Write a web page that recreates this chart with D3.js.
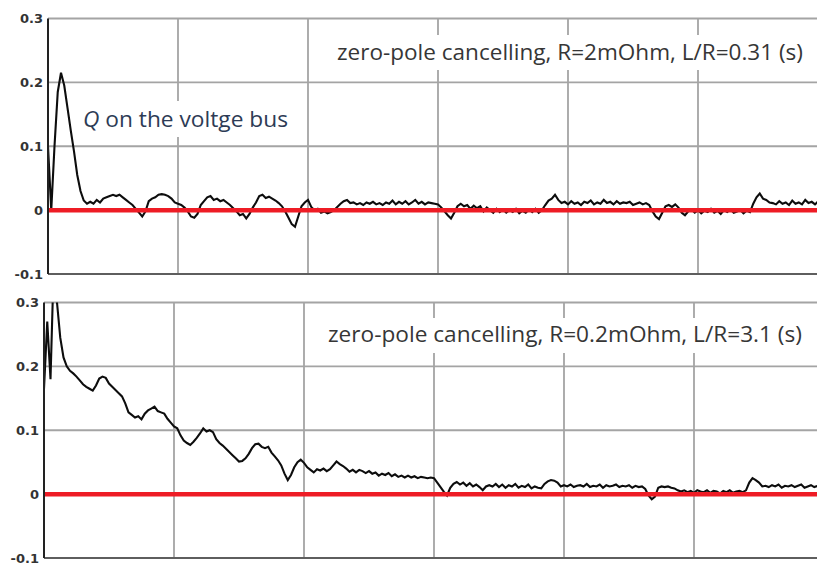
<!DOCTYPE html>
<html>
<head>
<meta charset="utf-8">
<script src="https://cdn.jsdelivr.net/npm/d3@7"></script>
<style>
  html, body { margin: 0; padding: 0; background: #fff; overflow: hidden; }
  svg { display: block; }
</style>
</head>
<body>
<svg id="chart" width="817" height="565"></svg>
<script>
// Reactive power Q on the voltage bus, two zero-pole cancelling settings
const yTicks = [-0.1, 0, 0.1, 0.2, 0.3];
const yTickLabels = ["-0.1", "0", "0.1", "0.2", "0.3"];
const xGrid = [1, 2, 3, 4, 5, 6];
const sampleStep = 0.025;

// R = 2 mOhm, L/R = 0.31 s
const qShortTau = [
  0.100, 0.000, 0.100, 0.185, 0.215, 0.195, 0.160, 0.125, 0.092, 0.055,
  0.030, 0.015, 0.010, 0.013, 0.010, 0.016, 0.012, 0.018, 0.020, 0.022,
  0.024, 0.022, 0.024, 0.020, 0.016, 0.012, 0.008, 0.002, -0.004, -0.010,
  -0.002, 0.014, 0.018, 0.020, 0.024, 0.025, 0.024, 0.022, 0.018, 0.012,
  0.010, 0.008, 0.004, -0.002, -0.010, -0.012, -0.006, 0.008, 0.014, 0.020,
  0.022, 0.016, 0.018, 0.014, 0.016, 0.012, 0.008, 0.003, -0.002, -0.008,
  -0.006, -0.013, -0.006, 0.004, 0.012, 0.022, 0.024, 0.019, 0.021, 0.018,
  0.015, 0.011, 0.006, -0.002, -0.012, -0.022, -0.026, -0.010, 0.006, 0.012,
  0.016, 0.005, 0.000, 0.002, -0.004, -0.002, -0.005, -0.003, 0.000, 0.005,
  0.010, 0.014, 0.016, 0.011, 0.012, 0.009, 0.011, 0.008, 0.012, 0.010,
  0.013, 0.009, 0.011, 0.008, 0.012, 0.010, 0.015, 0.009, 0.013, 0.010,
  0.014, 0.009, 0.012, 0.016, 0.010, 0.013, 0.009, 0.012, 0.011, 0.010,
  0.009, 0.004, -0.002, -0.008, -0.013, -0.004, 0.006, 0.010, 0.006, 0.008,
  0.002, 0.007, 0.003, 0.006, -0.002, 0.004, 0.000, -0.004, 0.002, -0.003,
  0.001, -0.004, 0.000, -0.003, 0.002, -0.005, -0.001, -0.004, 0.001, -0.003,
  0.002, -0.004, 0.000, 0.008, 0.015, 0.018, 0.024, 0.016, 0.011, 0.013,
  0.009, 0.014, 0.010, 0.012, 0.008, 0.013, 0.011, 0.015, 0.009, 0.012,
  0.010, 0.016, 0.011, 0.013, 0.009, 0.014, 0.010, 0.012, 0.011, 0.013,
  0.008, 0.010, 0.012, 0.009, 0.011, 0.008, -0.002, -0.010, -0.014, -0.004,
  0.006, 0.008, 0.005, 0.009, 0.004, -0.004, -0.008, -0.002, 0.001, -0.004,
  0.000, -0.005, -0.001, -0.003, 0.002, -0.004, -0.001, -0.006, 0.000, -0.003,
  0.001, -0.004, -0.002, 0.000, -0.005, -0.001, -0.003, 0.010, 0.020, 0.026,
  0.018, 0.016, 0.012, 0.011, 0.009, 0.014, 0.010, 0.012, 0.008, 0.015,
  0.010, 0.012, 0.009, 0.016, 0.011, 0.013, 0.009, 0.014, 0.010, 0.012
];

// R = 0.2 mOhm, L/R = 3.1 s
const qLongTau = [
  0.165, 0.270, 0.180, 0.360, 0.300, 0.245, 0.214, 0.200, 0.193, 0.189,
  0.184, 0.178, 0.172, 0.168, 0.165, 0.162, 0.170, 0.181, 0.184, 0.182,
  0.173, 0.168, 0.163, 0.158, 0.153, 0.142, 0.128, 0.124, 0.120, 0.122,
  0.117, 0.126, 0.131, 0.134, 0.137, 0.130, 0.128, 0.126, 0.118, 0.112,
  0.106, 0.103, 0.092, 0.084, 0.080, 0.077, 0.082, 0.088, 0.095, 0.103,
  0.098, 0.100, 0.097, 0.086, 0.080, 0.076, 0.071, 0.066, 0.061, 0.056,
  0.051, 0.052, 0.056, 0.063, 0.072, 0.078, 0.079, 0.074, 0.072, 0.074,
  0.065, 0.059, 0.053, 0.045, 0.032, 0.022, 0.030, 0.042, 0.050, 0.054,
  0.049, 0.042, 0.038, 0.034, 0.039, 0.037, 0.040, 0.036, 0.039, 0.045,
  0.051, 0.047, 0.044, 0.040, 0.035, 0.038, 0.034, 0.038, 0.036, 0.033,
  0.036, 0.032, 0.034, 0.029, 0.032, 0.030, 0.033, 0.028, 0.031, 0.027,
  0.029, 0.026, 0.029, 0.026, 0.028, 0.025, 0.027, 0.026, 0.025, 0.026,
  0.025, 0.018, 0.011, 0.004, -0.002, 0.010, 0.016, 0.019, 0.015, 0.018,
  0.013, 0.017, 0.012, 0.015, 0.011, 0.006, 0.012, 0.014, 0.012, 0.016,
  0.011, 0.015, 0.010, 0.014, 0.012, 0.016, 0.010, 0.013, 0.011, 0.015,
  0.009, 0.012, 0.010, 0.009, 0.016, 0.020, 0.022, 0.021, 0.018, 0.012,
  0.014, 0.012, 0.015, 0.011, 0.013, 0.014, 0.012, 0.016, 0.011, 0.013,
  0.012, 0.015, 0.010, 0.014, 0.012, 0.013, 0.015, 0.011, 0.013, 0.012,
  0.014, 0.010, 0.013, 0.011, 0.012, 0.008, -0.002, -0.008, -0.004, 0.010,
  0.012, 0.011, 0.012, 0.010, 0.009, 0.006, 0.004, 0.006, 0.003, 0.005,
  0.002, 0.006, 0.004, 0.003, 0.006, 0.002, 0.005, 0.004, 0.001, 0.005,
  0.003, 0.006, 0.002, 0.004, 0.005, 0.003, 0.006, 0.018, 0.025, 0.022,
  0.018, 0.012, 0.013, 0.011, 0.014, 0.012, 0.015, 0.010, 0.013, 0.012,
  0.014, 0.011, 0.013, 0.015, 0.010, 0.012, 0.014, 0.011, 0.013, 0.012
];

const panelTitles = [
  "zero-pole cancelling, R=2mOhm, L/R=0.31 (s)",
  "zero-pole cancelling, R=0.2mOhm, L/R=3.1 (s)"
];

const svg = d3.select("#chart");

const panels = [
  { series: qShortTau, title: panelTitles[0], left: 48, top: 18.5, bottom: 274,
    titleX: 337, titleY: 60, titleW: 466, box: [326, 35, 500, 35] },
  { series: qLongTau, title: panelTitles[1], left: 44, top: 302.5, bottom: 558,
    titleX: 328, titleY: 342, titleW: 474, box: [318, 318, 500, 35] }
];

panels.forEach((p, k) => {
  const x = d3.scaleLinear().domain([0, 6]).range([p.left, p.left + 780]);
  const y = d3.scaleLinear().domain([-0.1, 0.3]).range([p.bottom, p.top]);
  const g = svg.append("g");

  // horizontal grid
  g.append("g").selectAll("line")
    .data(yTicks.filter(v => v > -0.1 && v !== 0))
    .join("line")
    .attr("x1", p.left).attr("x2", 817)
    .attr("y1", d => y(d)).attr("y2", d => y(d))
    .attr("stroke", "#a4a4a4").attr("stroke-width", 1.8);

  // vertical grid
  g.append("g").selectAll("line")
    .data(xGrid)
    .join("line")
    .attr("x1", d => x(d)).attr("x2", d => x(d))
    .attr("y1", y(0.3)).attr("y2", y(-0.1))
    .attr("stroke", "#a4a4a4").attr("stroke-width", 1.8);

  // bottom frame
  g.append("line")
    .attr("x1", p.left).attr("x2", 817)
    .attr("y1", y(-0.1)).attr("y2", y(-0.1))
    .attr("stroke", "#5e5e5e").attr("stroke-width", 2);

  // white box behind the caption
  g.append("rect")
    .attr("x", p.box[0]).attr("y", p.box[1])
    .attr("width", p.box[2]).attr("height", p.box[3])
    .attr("fill", "#fff");

  // trace clipped to the plot area
  const clipId = "clip" + k;
  svg.append("clipPath").attr("id", clipId)
    .append("rect")
    .attr("x", p.left).attr("y", y(0.3))
    .attr("width", 817 - p.left).attr("height", y(-0.1) - y(0.3));

  const line = d3.line()
    .x((d, i) => x(i * sampleStep))
    .y(d => y(d));

  g.append("path")
    .datum(p.series)
    .attr("clip-path", `url(#${clipId})`)
    .attr("d", line)
    .attr("fill", "none")
    .attr("stroke", "#0d0d0d")
    .attr("stroke-width", 2.1)
    .attr("stroke-linejoin", "miter");

  // zero reference
  g.append("line")
    .attr("x1", p.left).attr("x2", 817)
    .attr("y1", y(0)).attr("y2", y(0))
    .attr("stroke", "#ee1c25").attr("stroke-width", 4.5);

  // left axis
  g.append("line")
    .attr("x1", p.left).attr("x2", p.left)
    .attr("y1", y(0.3)).attr("y2", y(-0.1))
    .attr("stroke", "#222").attr("stroke-width", 2);

  // tick labels
  g.append("g").selectAll("text")
    .data(yTicks)
    .join("text")
    .attr("x", p.left - 5)
    .attr("y", d => y(d))
    .attr("dy", "0.36em")
    .attr("text-anchor", "end")
    .attr("font-family", "DejaVu Sans, sans-serif")
    .attr("font-size", 13)
    .attr("font-weight", "bold")
    .attr("fill", "#333")
    .text((d, i) => yTickLabels[i]);

  // caption
  g.append("text")
    .attr("x", p.titleX).attr("y", p.titleY)
    .attr("font-family", "Open Sans, sans-serif")
    .attr("font-size", 21)
    .attr("fill", "#363636")
    .attr("textLength", p.titleW)
    .attr("lengthAdjust", "spacingAndGlyphs")
    .text(p.title);

  if (k === 0) {
    g.append("rect")
      .attr("x", 78).attr("y", 101).attr("width", 216).attr("height", 36)
      .attr("fill", "#fff");
    const q = g.append("text")
      .attr("x", 83).attr("y", 127)
      .attr("font-family", "Open Sans, sans-serif")
      .attr("font-size", 21)
      .attr("fill", "#2d3b55")
      .attr("textLength", 205)
      .attr("lengthAdjust", "spacingAndGlyphs");
    q.append("tspan").attr("font-style", "italic").text("Q");
    q.append("tspan").text(" on the voltge bus");
  }
});
</script>
</body>
</html>
